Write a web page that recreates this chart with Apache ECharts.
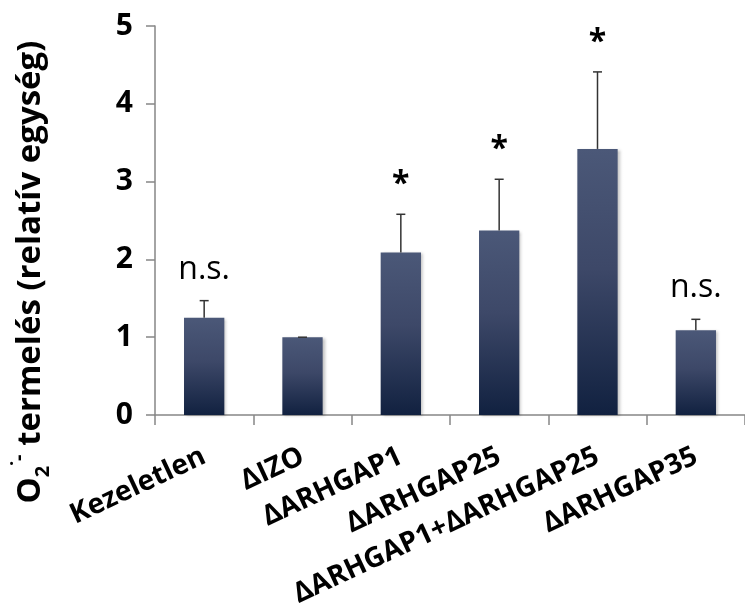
<!DOCTYPE html>
<html>
<head>
<meta charset="utf-8">
<script src="https://cdn.jsdelivr.net/npm/echarts@6/dist/echarts.min.js"></script>
<style>html,body{margin:0;padding:0;background:#fff}#c{width:745px;height:610px}</style>
</head>
<body>
<div id="c"></div>
<script>
var categories = ['Kezeletlen', 'ΔIZO', 'ΔARHGAP1', 'ΔARHGAP25', 'ΔARHGAP1+ΔARHGAP25', 'ΔARHGAP35'];
var values = [1.25, 1.0, 2.09, 2.37, 3.42, 1.09];
var errorTop = [1.47, 1.0, 2.58, 3.03, 4.41, 1.23];
var marks = ['n.s.', '', '*', '*', '*', 'n.s.'];
var yTicks = [0, 1, 2, 3, 4, 5];

var chart = echarts.init(document.getElementById('c'), null, {renderer: 'canvas'});
var FONT = 'Open Sans';
var axisColor = '#868686';

var option = {
  animation: false,
  backgroundColor: '#ffffff',
  grid: {left: 155, top: 26, width: 598, height: 391, containLabel: false},
  xAxis: {
    type: 'category',
    data: categories,
    axisLine: {lineStyle: {color: axisColor, width: 1.5}},
    axisTick: {show: true, length: 10, lineStyle: {color: axisColor, width: 1.5}},
    axisLabel: {
      interval: 0, rotate: 25, margin: 40,
      color: '#000', fontFamily: FONT, fontWeight: 'bold', fontSize: 28
    },
    splitLine: {show: false}
  },
  yAxis: {
    type: 'value', min: yTicks[0], max: yTicks[yTicks.length - 1], interval: 1,
    axisLine: {show: true, lineStyle: {color: axisColor, width: 1.5}},
    axisTick: {show: true, length: 9, lineStyle: {color: axisColor, width: 1.5}},
    axisLabel: {margin: 22, color: '#000', fontFamily: FONT, fontWeight: 'bold', fontSize: 30},
    splitLine: {show: false}
  },
  graphic: [{
    type: 'text',
    x: 31, y: 272,
    rotation: Math.PI / 2,
    style: {
      text: '{m|O}{sub|2}{sup|˙-}{m| termelés (relatív egység)}',
      align: 'center', verticalAlign: 'middle',
      rich: {
        m: {fontFamily: FONT, fontWeight: 'bold', fontSize: 33, fill: '#000', lineHeight: 44},
        sub: {fontFamily: FONT, fontWeight: 'bold', fontSize: 20, fill: '#000', verticalAlign: 'bottom', lineHeight: 44},
        sup: {fontFamily: FONT, fontWeight: 'bold', fontSize: 20, fill: '#000', verticalAlign: 'top', lineHeight: 44}
      }
    }
  }],
  series: [{
    type: 'bar',
    data: values,
    barWidth: '41%',
    itemStyle: {
      color: new echarts.graphic.LinearGradient(0, 0, 0, 1, [
        {offset: 0, color: '#4b5878'},
        {offset: 0.45, color: '#3d4868'},
        {offset: 1, color: '#112140'}
      ]),
      shadowColor: 'rgba(0,0,0,0.25)', shadowBlur: 3, shadowOffsetX: 2, shadowOffsetY: 1
    }
  }, {
    type: 'custom',
    data: categories.map(function (c, i) { return [i, errorTop[i], values[i]]; }),
    renderItem: function (params, api) {
      var i = params.dataIndex;
      var top = api.coord([api.value(0), api.value(1)]);
      var base = api.coord([api.value(0), api.value(2)]);
      var st = {stroke: '#333', lineWidth: 1.5};
      var children = [
        {type: 'line', shape: {x1: top[0], y1: top[1], x2: base[0], y2: base[1]}, style: st},
        {type: 'line', shape: {x1: top[0] - 4.5, y1: top[1], x2: top[0] + 4.5, y2: top[1]}, style: st}
      ];
      var m = marks[i];
      if (m) {
        var isStar = m === '*';
        children.push({
          type: 'text',
          style: {
            text: m,
            x: top[0], y: top[1] - (isStar ? 29 : 31),
            align: 'center', verticalAlign: 'middle',
            fontFamily: FONT, fontWeight: isStar ? 'bold' : 'normal',
            fontSize: 32, fill: '#000'
          }
        });
      }
      return {type: 'group', children: children};
    },
    z: 5
  }]
};
chart.setOption(option);
</script>
</body>
</html>
